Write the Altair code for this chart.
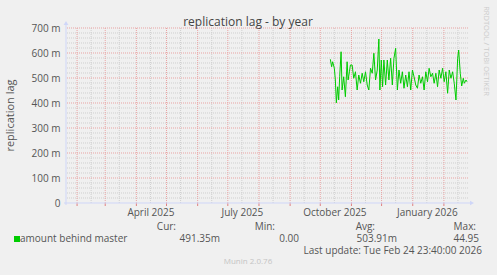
import altair as alt
import pandas as pd

# ---------------- data ----------------
start_date = "2025-10-11"
day_offsets = [0, 1.3, 2.3, 4, 5, 6, 7.3, 8.3, 9.3, 10.7, 11.7, 13.3, 15, 16.7, 17.7, 19, 20,
               21.7, 23.3, 25, 26.7, 28.3, 30, 31.7, 33.3, 35, 36.7, 38.3, 40, 41.7, 43.3, 45, 46.7, 48.3,
               49.3, 50.7, 52, 53.3,
               55, 56.7, 58.3, 60, 61.7, 63.3, 65, 66.7, 68.3, 70, 71.7, 73.3, 75, 76.7, 78.3, 80, 81.7,
               83.3, 85, 86.7, 88.3, 90, 91.7, 93.3, 95, 96.7, 98.3, 100, 101.7, 103.3, 105, 106.7, 108.3,
               110, 111.7, 113.3, 115, 116.7, 118.3, 120, 121.7, 123.3, 125, 126.7,
               127.7, 129.3, 130.7, 132.3, 133.3, 135, 136]
lag_m = [575, 545, 565, 539, 492, 401, 465, 412, 505, 605, 452, 505, 425, 565, 492, 525, 552,
         552, 499, 525, 452, 512, 479, 519, 485, 525, 472, 452, 539, 519, 599, 492, 532, 656,
         452, 572, 465, 572,
         472, 572, 492, 579, 472, 579, 619, 452, 532, 479, 525, 459, 512, 465, 525, 452, 532,
         505, 472, 459, 512, 479, 505, 452, 525, 485, 539, 505, 519, 479, 519, 465, 532,
         499, 539, 485, 525, 439, 532, 499, 525, 479, 412, 579,
         612, 519, 468, 499, 479, 492, 485]

y_ticks = [0, 100, 200, 300, 400, 500, 600, 700]
y_minor = [20, 40, 60, 80, 120, 140, 160, 180, 220, 240, 260, 280, 320, 340, 360, 380,
           420, 440, 460, 480, 520, 540, 560, 580, 620, 640, 660, 680]
month_starts = ["2025-02-01", "2025-03-01", "2025-04-01", "2025-05-01", "2025-06-01",
                "2025-07-01", "2025-08-01", "2025-09-01", "2025-10-01", "2025-11-01",
                "2025-12-01", "2026-01-01", "2026-02-01"]
mid_months = ["2025-02-15", "2025-03-15", "2025-04-15", "2025-05-15", "2025-06-15",
              "2025-07-15", "2025-08-15", "2025-09-15", "2025-10-15", "2025-11-15",
              "2025-12-15", "2026-01-15", "2026-02-15"]
label_dates = [(2025, 4, 15), (2025, 7, 15), (2025, 10, 15), (2026, 1, 15)]

title_text = "replication lag - by year"
y_title = "replication lag"
series_name = "amount behind master"
stat_heads = ["Cur:", "Min:", "Avg:", "Max:"]
stat_vals = ["491.35m", "0.00", "503.91m", "44.95"]
last_update = "Last update: Tue Feb 24 23:40:00 2026"
footer = "Munin 2.0.76"
watermark = "RRDTOOL / TOBI OETIKER"

# ---------------- build ----------------
FONT = "Open Sans"
TXT = "#555555"
AXIS_C = "#cfd6f8"
W, H = 402, 175

df = pd.DataFrame({
    "date": pd.Timestamp(start_date) + pd.to_timedelta(day_offsets, unit="D"),
    "lag": lag_m,
})

xscale = alt.Scale(domain=[alt.DateTime(year=2025, month=1, date=20, hours=23, minutes=40),
                           alt.DateTime(year=2026, month=2, date=24, hours=23, minutes=40)])
yscale = alt.Scale(domain=[0, 700], nice=False, zero=True)

x_axis = alt.Axis(
    values=[alt.DateTime(year=y, month=m, date=d) for (y, m, d) in label_dates],
    format="%B %Y", labelFont=FONT, labelFontSize=10, labelColor=TXT,
    ticks=False, domain=False, grid=False, title=None, labelPadding=4,
    labelFlush=False, labelOverlap=False,
)
y_axis = alt.Axis(
    values=y_ticks, labelExpr="datum.value == 0 ? '0' : datum.value + ' m'",
    labelFont=FONT, labelFontSize=10, labelColor=TXT, ticks=False, domain=False,
    grid=False, title=None, labelPadding=6,
)

h_minor = alt.Chart(pd.DataFrame({"v": y_minor})).mark_rule(
    color="#cfcfcf", strokeDash=[1, 1], strokeWidth=1
).encode(y=alt.Y("v:Q", scale=yscale, axis=y_axis))

h_major = alt.Chart(pd.DataFrame({"v": y_ticks[1:]})).mark_rule(
    color="#e9a3a3", strokeDash=[1, 1], strokeWidth=1
).encode(y=alt.Y("v:Q", scale=yscale, axis=y_axis))

v_minor = alt.Chart(pd.DataFrame({"d": pd.to_datetime(mid_months)})).mark_rule(
    color="#cfcfcf", strokeDash=[1, 1], strokeWidth=1
).encode(x=alt.X("d:T", scale=xscale, axis=x_axis))

v_major = alt.Chart(pd.DataFrame({"d": pd.to_datetime(month_starts)})).mark_rule(
    color="#e9a3a3", strokeDash=[1, 1], strokeWidth=1
).encode(x=alt.X("d:T", scale=xscale, axis=x_axis))

v_ticks = alt.Chart(pd.DataFrame({"d": pd.to_datetime(month_starts)})).mark_rule(
    color="#e08080", strokeWidth=1
).encode(x=alt.X("d:T", scale=xscale, axis=x_axis), y=alt.value(H), y2=alt.value(H + 3))

line = alt.Chart(df).mark_line(color="#00cc00", strokeWidth=1).encode(
    x=alt.X("date:T", scale=xscale, axis=x_axis),
    y=alt.Y("lag:Q", scale=yscale, axis=y_axis),
)

one = pd.DataFrame({"k": [0]})
y_axis_line = alt.Chart(one).mark_rule(color=AXIS_C, strokeWidth=1).encode(
    x=alt.value(0), y=alt.value(H + 2), y2=alt.value(-4))
x_axis_line = alt.Chart(one).mark_rule(color=AXIS_C, strokeWidth=1).encode(
    x=alt.value(-2), x2=alt.value(W + 2), y=alt.value(H))
arrow_up = alt.Chart(one).mark_point(shape="triangle-up", filled=True, color=AXIS_C,
                                     opacity=1, size=22).encode(x=alt.value(0), y=alt.value(-5))
arrow_right = alt.Chart(one).mark_point(shape="triangle-right", filled=True, color=AXIS_C,
                                        opacity=1, size=22).encode(x=alt.value(W + 4), y=alt.value(H))


def text_at(txt, x, y, align="left", size=10, color=TXT, angle=0):
    return alt.Chart(pd.DataFrame({"t": [txt]})).mark_text(
        align=align, baseline="middle", font=FONT, fontSize=size, color=color, angle=angle
    ).encode(x=alt.value(x), y=alt.value(y), text="t:N")


texts = [
    text_at(title_text, 182, -6, align="center", size=12, color="#444444"),
    text_at(y_title, -55, H / 2, align="center", size=11, angle=270),
    text_at(watermark, 420, 23, align="center", size=7.5, color="#cccccc", angle=90),
    text_at(series_name, -46, 211),
    text_at(last_update, 416, 223, align="right"),
    text_at(footer, 182, 234, align="center", size=8, color="#c4c4c4"),
]
head_x = [110, 209, 309, 410]
val_x = [154, 233, 331, 413]
for h, hx in zip(stat_heads, head_x):
    texts.append(text_at(h, hx, 199, align="right"))
for v, vx in zip(stat_vals, val_x):
    texts.append(text_at(v, vx, 211, align="right"))

swatch = alt.Chart(one).mark_square(color="#00cc00", filled=True, opacity=1, size=36).encode(
    x=alt.value(-49), y=alt.value(211))

chart = alt.layer(
    h_minor, v_minor, h_major, v_major, v_ticks, line,
    y_axis_line, x_axis_line, arrow_up, arrow_right, swatch, *texts
).properties(
    width=W, height=H,
    autosize=alt.AutoSizeParams(type="none"),
    padding={"left": 66, "top": 28, "right": 29, "bottom": 72},
    background="#f0f0f0",
).configure_view(strokeWidth=0, fill="#f0f0f0")

chart.save("out.html", embed_options={"renderer": "svg", "actions": False})
